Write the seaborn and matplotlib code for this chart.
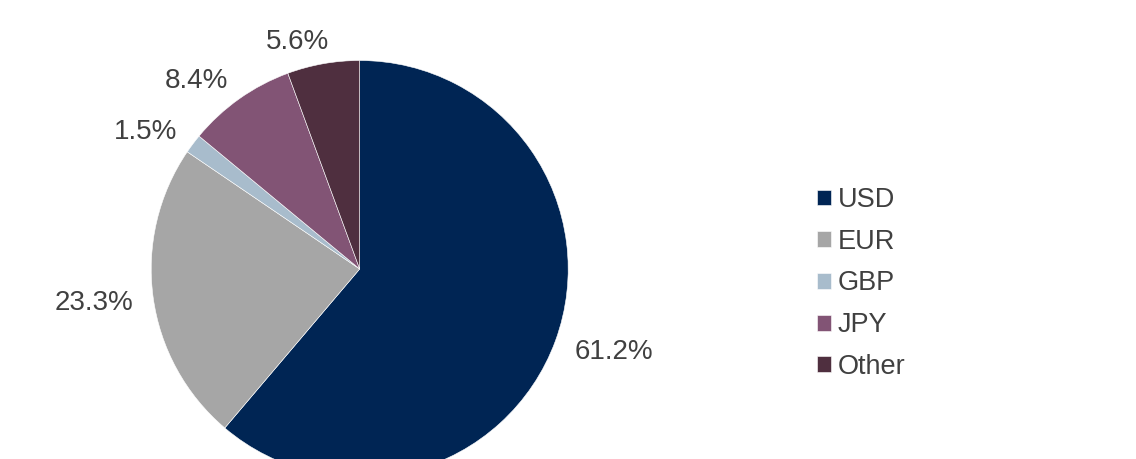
import numpy as np
import matplotlib.pyplot as plt
import seaborn as sns

currencies = ['USD', 'EUR', 'GBP', 'JPY', 'Other']
shares = [61.2, 23.3, 1.5, 8.4, 5.6]
colors = ['#002554', '#A6A6A6', '#A8BCCC', '#825475', '#4F2F3F']

sns.set_theme(style='white')
plt.rcParams['font.family'] = ['Liberation Sans', 'DejaVu Sans']
pal = sns.color_palette(colors)

W, H = 1136, 459
cx, cy, r_px = 359.7, 269.0, 208.5   # pie centre / radius in pixels (from top-left)

fig = plt.figure(figsize=(W / 100, H / 100), dpi=100)
# pie runs off the bottom edge of the figure, as in the reference
ax = fig.add_axes([(cx - r_px) / W, (H - cy - r_px) / H, 2 * r_px / W, 2 * r_px / H])
wedges, texts = ax.pie(shares, colors=pal, startangle=90, counterclock=False,
                       labels=[f'{v:.1f}%' for v in shares], labeldistance=1.2,
                       wedgeprops=dict(edgecolor='white', linewidth=0.4),
                       textprops=dict(fontsize=20, color='#404040'))
ax.set_xlim(-1, 1)
ax.set_ylim(-1, 1)
ax.set_aspect('equal', adjustable='box')

# outside-end labels: box pushed off the rim roughly like Excel does it
fig.canvas.draw()
renderer = fig.canvas.get_renderer()
gap = 20.0
for w, t in zip(wedges, texts):
    t.set_horizontalalignment('center')
    t.set_verticalalignment('center')
    bb = t.get_window_extent(renderer)
    ang = np.deg2rad((w.theta1 + w.theta2) / 2)
    c, s = np.cos(ang), np.sin(ang)
    dx = (r_px + gap) * c + np.sign(c) * bb.width / 2 * min(1, 4 * abs(c))
    dy = (r_px + gap + 5) * s - 3
    t.set_position((dx / r_px, dy / r_px))

leg = fig.legend(wedges, currencies, loc='center left', bbox_to_anchor=(793 / W, 1 - 283.5 / H),
                 frameon=False, fontsize=19.5, handlelength=0.52, handleheight=0.52,
                 handletextpad=0.22, labelspacing=0.58)
for t in leg.get_texts():
    t.set_color('#404040')

fig.savefig('out.png', dpi=100)
